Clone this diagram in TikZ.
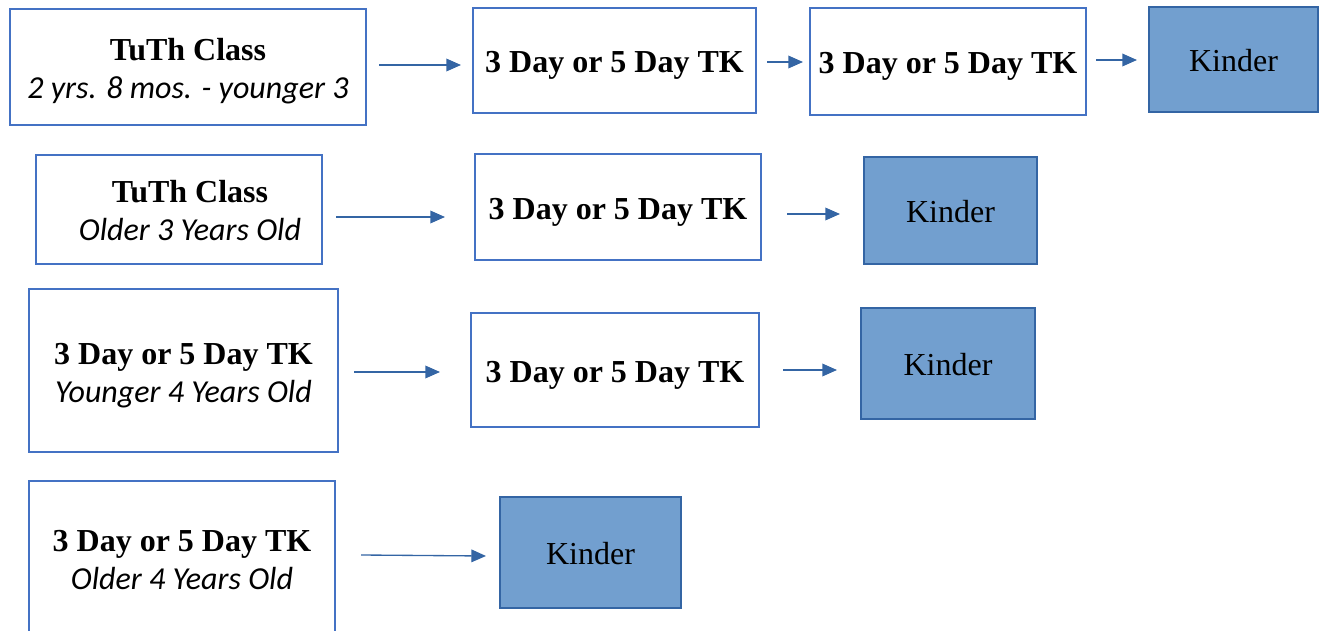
\documentclass[tikz,border=0pt]{standalone}
\usepackage{fontspec}
\setmainfont{Liberation Serif}
\newfontfamily\carlito{Carlito}
\usetikzlibrary{arrows.meta,calc}

\definecolor{boxline}{RGB}{68,114,196}
\definecolor{kfill}{RGB}{114,159,207}
\definecolor{kline}{RGB}{52,101,164}
\definecolor{arrowblue}{RGB}{52,101,164}

% invisible strut that pushes the text a little lower in its box
\newcommand{\lift}[1][23.5pt]{\rule{0pt}{#1}}

\begin{document}
\begin{tikzpicture}[x=0.75pt,y=-0.75pt,
    bx/.style 2 args={draw=boxline,line width=0.8pt,fill=white,inner sep=0pt,outer sep=0pt,
      minimum width=#1*0.75pt,minimum height=#2*0.75pt,align=center,
      font=\fontsize{24}{28.5}\selectfont},
    kinder/.style 2 args={bx={#1}{#2},draw=kline,fill=kfill},
    arr/.style={draw=arrowblue,line width=1pt,-{Triangle[length=11pt,width=9.5pt]}}]

  \useasboundingbox (0,0) rectangle (1321,631);

  % row 1
  \node[bx={356}{116}] (tuth1) at (188,67) {\lift\textbf{TuTh Class}\\{\carlito\itshape 2 yrs. 8 mos. - younger 3}};
  \node[bx={283}{105}] (tka) at (614.5,60.5) {\lift\textbf{3 Day or 5 Day TK}};
  \node[bx={276}{107}] (tkb) at (948,61.5) {\lift\textbf{3 Day or 5 Day TK}};
  \node[kinder={169}{105}] (kinder1) at (1233.5,59.5) {\lift[17.5pt]Kinder};
  \draw[arr] ($(tuth1.east)+(13,-2)$) -- ($(tka.west)+(-12,4.5)$);
  \draw[arr] ($(tka.east)+(11,1.5)$) -- ($(tkb.west)+(-7,0.5)$);
  \draw[arr] ($(tkb.east)+(10,-1.5)$) -- ($(kinder1.west)+(-12,0.5)$);

  % row 2
  \node[bx={286}{109}] (tuth2) at (179,209.5) {\lift[18.3pt]\hspace*{16.5pt}\textbf{TuTh Class}\\\hspace*{16.5pt}{\carlito\itshape Older 3 Years Old}};
  \node[bx={286}{106}] (tkc) at (618,207) {\lift\textbf{3 Day or 5 Day TK}};
  \node[kinder={173}{107}] (kinder2) at (950.5,210.5) {\lift[17.5pt]Kinder};
  \draw[arr] ($(tuth2.east)+(14,7.5)$) -- ($(tkc.west)+(-30,10)$);
  \draw[arr] ($(tkc.east)+(26,7)$) -- ($(kinder2.west)+(-24,3.5)$);

  % row 3
  \node[bx={309}{163}] (tk4y) at (183.5,370.5) {\lift\textbf{3 Day or 5 Day TK}\\{\carlito\itshape Younger 4 Years Old}};
  \node[bx={288}{114}] (tkd) at (615,370) {\lift\textbf{3 Day or 5 Day TK}};
  \node[kinder={174}{111}] (kinder3) at (948,363.5) {\lift[17.5pt]Kinder};
  \draw[arr] ($(tk4y.east)+(16,1.5)$) -- ($(tkd.west)+(-31,2)$);
  \draw[arr] ($(tkd.east)+(24,0)$) -- ($(kinder3.west)+(-24,6.5)$);

  % row 4
  \node[bx={306}{154}] (tk4o) at (182,558) {\lift[19.5pt]\textbf{3 Day or 5 Day TK}\\{\carlito\itshape Older 4 Years Old}};
  \node[kinder={181}{111}] (kinder4) at (590.5,552.5) {\lift[17.5pt]Kinder};
  \draw[arr] ($(tk4o.east)+(26,-3)$) -- ($(kinder4.west)+(-14,3.5)$);
\end{tikzpicture}
\end{document}
